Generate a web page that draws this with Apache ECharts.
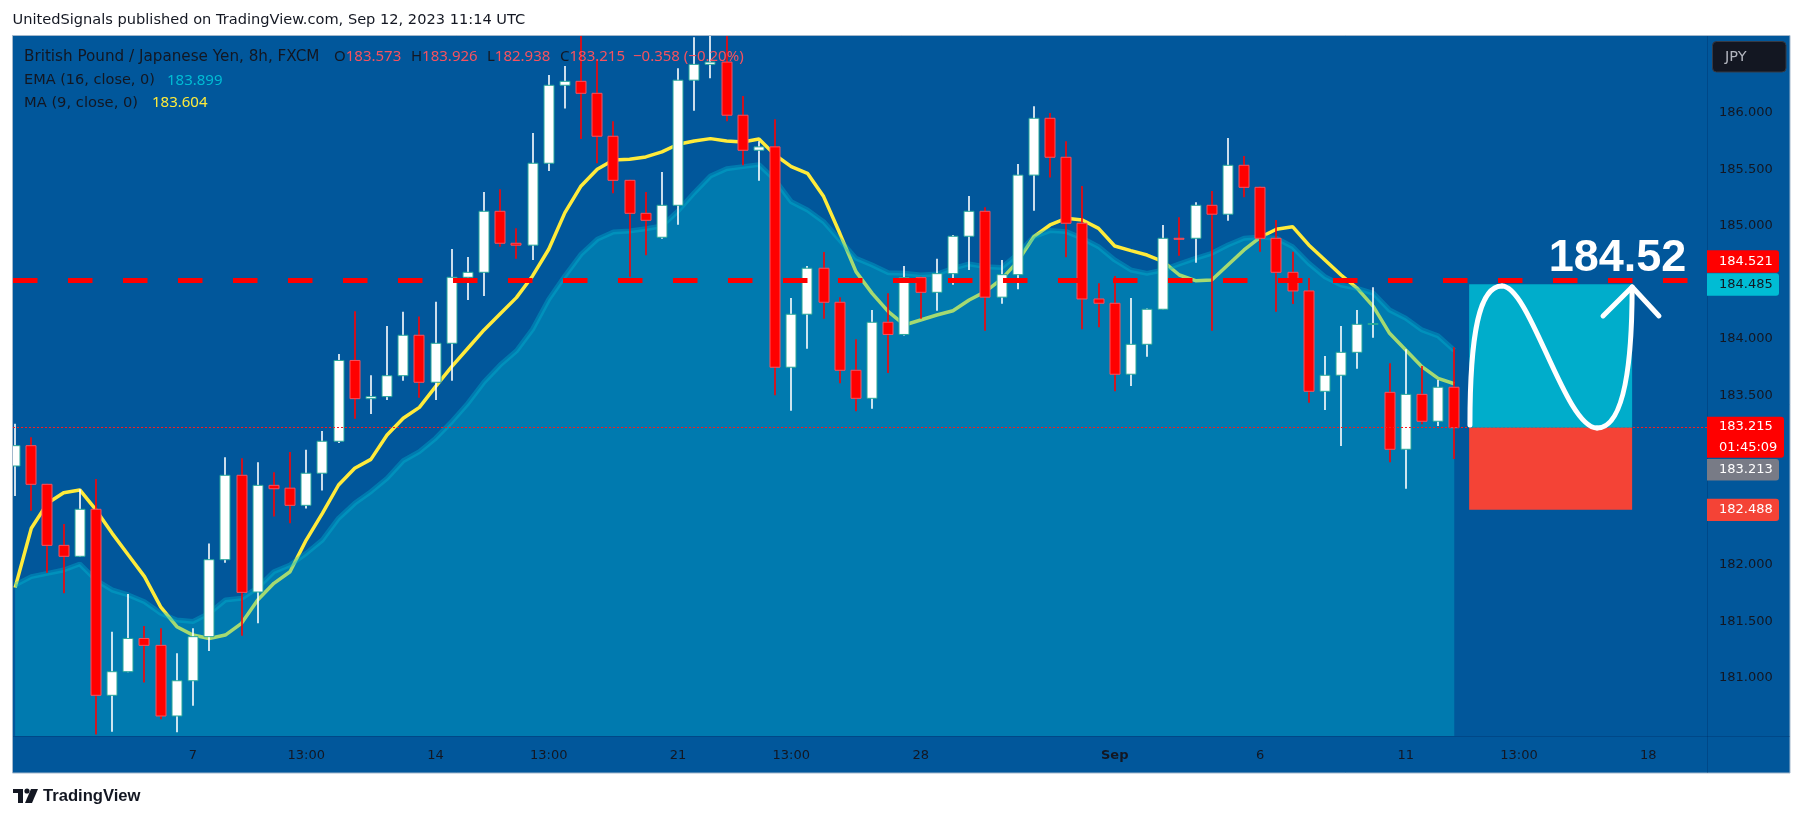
<!DOCTYPE html>
<html><head><meta charset="utf-8">
<script src="https://cdn.jsdelivr.net/npm/echarts@6/dist/echarts.min.js"></script>
<style>html,body{margin:0;padding:0;background:#fff;}#c{width:1803px;height:821px;}</style>
</head><body><div id="c"></div>
<script>
// ---------------- DATA ----------------
const opens = [182.876,183.056,182.714,182.174,182.077,182.493,180.847,181.056,181.35,181.289,
180.664,180.976,181.366,182.047,182.794,181.761,182.705,182.68,182.528,182.812,
183.095,183.81,183.472,183.49,183.675,184.033,183.617,183.962,184.546,184.59,
185.13,184.847,184.83,185.555,186.245,186.28,186.174,185.794,185.404,185.112,
184.9,185.183,186.29,186.43,186.45,185.98,185.67,185.70,183.75,184.219,
184.626,184.325,183.723,183.475,184.148,184.04,184.543,184.413,184.578,184.909,
185.13,184.37,184.569,185.45,185.953,185.608,185.024,184.354,184.316,183.688,
183.953,184.263,184.891,184.891,185.183,185.104,185.537,185.342,184.891,184.59,
184.425,183.537,183.679,183.882,184.133,183.528,183.024,183.51,183.272,183.573];
const closes = [183.056,182.714,182.174,182.077,182.493,180.847,181.056,181.35,181.289,180.664,
180.976,181.366,182.047,182.794,181.758,182.705,182.675,182.528,182.812,183.095,
183.81,183.472,183.49,183.675,184.033,183.617,183.962,184.546,184.59,185.13,
184.847,184.83,185.555,186.245,186.28,186.174,185.794,185.404,185.112,185.05,
185.183,186.29,186.43,186.45,185.98,185.67,185.70,183.75,184.219,184.626,
184.325,183.723,183.475,184.148,184.04,184.543,184.413,184.578,184.909,185.13,
184.37,184.569,185.45,185.953,185.608,185.024,184.354,184.316,183.688,183.953,
184.263,184.891,184.889,185.183,185.104,185.537,185.342,184.891,184.59,184.425,
183.537,183.679,183.882,184.13,184.137,183.024,183.51,183.272,183.573,183.215];
const lows = [182.61,182.48,181.932,181.75,182.07,180.50,180.525,181.05,180.96,180.635,
180.52,180.755,181.24,182.02,181.374,181.484,182.43,182.37,182.5,182.66,
183.08,183.295,183.336,183.46,183.63,183.48,183.46,183.63,184.345,184.38,
184.817,184.71,184.70,185.487,186.04,185.77,185.555,185.29,184.55,184.74,
184.888,185.01,186.02,186.307,185.927,185.537,185.40,183.502,183.365,183.914,
184.18,183.608,183.36,183.383,183.70,184.03,184.18,184.25,184.48,184.61,
184.073,184.312,184.44,185.135,185.43,184.723,184.086,184.104,183.537,183.584,
183.843,184.26,184.737,184.675,184.073,185.047,185.254,184.773,184.242,184.31,
183.436,183.372,183.053,183.737,184.01,182.909,182.675,183.245,183.23,182.938];
const highs = [183.25,183.13,182.72,182.363,182.67,182.76,181.41,181.743,181.46,181.44,
181.22,181.44,182.19,182.953,182.945,182.91,182.82,183.0,183.02,183.186,
183.867,184.245,183.68,184.115,184.24,184.2,184.33,184.796,184.726,185.30,
185.325,184.98,185.823,186.336,186.416,186.7,186.475,185.927,185.41,185.30,
185.478,186.396,186.67,186.7,186.7,186.15,185.75,185.944,184.363,184.646,
184.77,184.37,183.997,184.257,184.404,184.646,184.55,184.71,184.92,185.265,
185.165,184.70,185.549,186.06,186.0,185.75,185.354,184.493,184.557,184.363,
184.27,185.009,185.077,185.21,185.31,185.779,185.62,185.35,185.053,184.773,
184.54,183.85,184.115,184.257,184.457,183.785,183.91,183.761,183.637,183.926];
const ema16 = [181.823,181.897,181.926,181.956,182.009,181.867,181.779,181.735,181.675,181.573,
181.513,181.5,181.573,181.69,181.705,181.80,181.94,182.0,182.103,182.221,
182.413,182.546,182.649,182.767,182.923,183.003,183.121,183.268,183.431,183.62,
183.77,183.894,184.086,184.351,184.558,184.75,184.882,184.947,184.956,184.976,
185.0,185.133,185.295,185.442,185.507,185.525,185.543,185.407,185.215,185.142,
185.038,184.876,184.714,184.655,184.587,184.581,184.566,184.575,184.625,184.664,
184.64,184.632,184.75,184.906,184.959,184.95,184.891,184.817,184.699,184.611,
184.581,184.611,184.664,184.714,184.758,184.832,184.891,184.903,184.891,184.817,
184.67,184.551,184.478,184.448,184.404,184.257,184.183,184.08,184.027,183.899];
const ma9 = [181.80,182.325,182.546,182.64,182.664,182.487,182.28,182.088,181.897,181.63,
181.454,181.38,181.35,181.38,181.484,181.69,181.838,181.94,182.221,182.457,
182.708,182.856,182.935,183.15,183.298,183.395,183.578,183.755,183.918,184.08,
184.223,184.366,184.558,184.794,185.118,185.354,185.502,185.584,185.59,185.611,
185.655,185.723,185.752,185.773,185.752,185.743,185.77,185.628,185.525,185.466,
185.26,184.935,184.596,184.404,184.242,184.124,184.168,184.212,184.25,184.345,
184.419,184.53,184.685,184.906,185.009,185.068,185.053,184.979,184.823,184.782,
184.743,184.684,184.566,184.516,184.522,184.655,184.788,184.9,184.971,184.994,
184.832,184.699,184.566,184.448,184.286,184.05,183.903,183.755,183.652,183.604];
const xTickIndex  = [11, 18, 26, 33, 41, 48, 56, 68, 77, 86, 93, 101];
const xTickLabels = ['7','13:00','14','13:00','21','13:00','28','Sep','6','11','13:00','18'];
const yTickValues = [181, 181.5, 182, 182.5, 183, 183.5, 184, 184.5, 185, 185.5, 186];
// position tool / drawings
const alertPrice = 184.521, targetPrice = 184.485, entryPrice = 183.215, stopPrice = 182.488, bidPrice = 183.213;
const countdown = '01:45:09';
const boxStart = 89.92, boxEnd = 100.0;
const targetLabel = '184.52';
const curveStart = [89.97, 183.239];
const curveSegs = [ // [cp1, cp2, end]
  [[89.97, 184.08], [90.6, 184.469], [91.95, 184.469]],
  [[93.69, 184.469], [95.85, 183.212], [97.83, 183.212]],
  [[99.56, 183.212], [100.0, 183.814], [100.0, 184.46]]
];
const arrowPts = [[98.2, 184.204], [100.0, 184.46], [101.66, 184.204]];
const targetTextPos = [103.35, 184.71];

// ---------------- CHART ----------------
const FONT = '"Noto Sans", "Liberation Sans", sans-serif';
const DJ = '"DejaVu Sans", "Noto Sans", sans-serif';
const DARK = '#131722';
const X_MIN = -0.132, X_MAX = 104.63, Y_MIN = 180.487, Y_MAX = 186.681;
const chart = echarts.init(document.getElementById('c'));

const candleData = opens.map((o, i) => [i, o, closes[i], lows[i], highs[i]]);

function renderCandle(params, api) {
  const x = api.value(0), o = api.value(1), c = api.value(2), lo = api.value(3), hi = api.value(4);
  const up = c >= o;
  const pO = api.coord([x, o]), pC = api.coord([x, c]), pL = api.coord([x, lo]), pH = api.coord([x, hi]);
  const bw = Math.round(api.size([1, 0])[0] * 0.70);
  const cx = Math.round(pO[0]);
  const top = Math.min(pO[1], pC[1]), bot = Math.max(pO[1], pC[1]);
  const h = Math.max(bot - top, 1);
  return {
    type: 'group',
    children: [
      { type: 'line', shape: { x1: cx, y1: pH[1], x2: cx, y2: pL[1] },
        style: { stroke: up ? '#ffffff' : '#ff0000', lineWidth: 1.6 } },
      { type: 'rect', shape: { x: cx - bw / 2 + 0.5, y: top, width: bw - 1, height: h },
        style: { fill: up ? '#ffffff' : '#ff0000', stroke: up ? '#26a69a' : '#f7525f', lineWidth: 1 } }
    ]
  };
}

function renderAnnot(params, api) {
  const c = p => api.coord(p);
  const tl = c([boxStart, targetPrice]), en = c([boxEnd, entryPrice]), sb = c([boxEnd, stopPrice]);
  const children = [
    { type: 'rect', shape: { x: tl[0], y: tl[1], width: en[0] - tl[0], height: en[1] - tl[1] }, style: { fill: '#00adcb' } },
    { type: 'rect', shape: { x: tl[0], y: en[1], width: en[0] - tl[0], height: sb[1] - en[1] }, style: { fill: '#f44336' } }
  ];
  let prev = c(curveStart);
  curveSegs.forEach(seg => {
    const a = c(seg[0]), b = c(seg[1]), e = c(seg[2]);
    children.push({ type: 'bezierCurve',
      shape: { x1: prev[0], y1: prev[1], cpx1: a[0], cpy1: a[1], cpx2: b[0], cpy2: b[1], x2: e[0], y2: e[1] },
      style: { stroke: '#ffffff', lineWidth: 5, fill: null, lineCap: 'round' } });
    prev = e;
  });
  children.push({ type: 'polyline', shape: { points: arrowPts.map(c) },
    style: { stroke: '#ffffff', lineWidth: 5, fill: null, lineCap: 'round', lineJoin: 'round' } });
  const tp = c(targetTextPos);
  children.push({ type: 'text', x: tp[0], y: tp[1],
    style: { text: targetLabel, fill: '#ffffff', fontSize: 45, fontWeight: 'bold',
      fontFamily: '"Liberation Sans", Arial, sans-serif', align: 'right', verticalAlign: 'middle' } });
  return { type: 'group', children };
}

const option = {
  animation: false,
  backgroundColor: '#ffffff',
  grid: { left: 13, right: 96, top: 36, bottom: 85, containLabel: false, outerBoundsMode: 'none' },
  tooltip: { show: false },
  xAxis: {
    type: 'value', min: X_MIN, max: X_MAX,
    axisLine: { show: false }, axisTick: { show: false }, splitLine: { show: false },
    axisLabel: {
      customValues: xTickIndex, margin: 13, color: DARK, fontSize: 13, fontFamily: DJ,
      formatter: v => { const k = xTickIndex.indexOf(Math.round(v)); const t = k >= 0 ? xTickLabels[k] : '';
        return t === 'Sep' ? '{b|' + t + '}' : t; },
      rich: { b: { fontWeight: 'bold', color: DARK, fontSize: 13, fontFamily: DJ } }
    }
  },
  yAxis: {
    type: 'value', position: 'right', min: Y_MIN, max: Y_MAX, scale: true,
    axisLine: { show: false }, axisTick: { show: false }, splitLine: { show: false },
    axisLabel: { customValues: yTickValues, margin: 12, color: DARK, fontSize: 13, fontFamily: DJ,
      formatter: v => v.toFixed(3) }
  },
  series: [
    { name: 'MA (9, close, 0)', type: 'line', z: 2, showSymbol: false, silent: true,
      data: ma9.map((v, i) => [i, v]),
      lineStyle: { color: '#ffeb3b', width: 3.5 },
      markLine: { silent: true, symbol: ['none', 'none'], label: { show: false },
        lineStyle: { color: '#ff0000', width: 5, type: [24.5, 30.5] },
        data: [{ yAxis: alertPrice }] } },
    { name: 'EMA (16, close, 0)', type: 'line', z: 3, showSymbol: false, silent: true,
      data: ema16.map((v, i) => [i, v]),
      lineStyle: { color: 'rgba(0,188,212,0.35)', width: 5 },
      areaStyle: { color: 'rgba(0,188,212,0.5)', origin: 'start' } },
    { name: 'GBPJPY', type: 'custom', z: 4, clip: true, silent: true,
      renderItem: renderCandle, encode: { x: 0, y: [1, 2, 3, 4] }, data: candleData },
    { name: 'last', type: 'line', z: 5, showSymbol: false, silent: true,
      data: [[89, entryPrice]], lineStyle: { width: 0, opacity: 0 },
      markLine: { silent: true, symbol: ['none', 'none'], label: { show: false },
        lineStyle: { color: '#ff1a1a', width: 1, type: [2, 2] },
        data: [{ yAxis: entryPrice }] } },
    { name: 'long position', type: 'custom', z: 6, clip: false, silent: true,
      renderItem: renderAnnot, encode: { x: 0, y: 1 }, data: [[boxStart, entryPrice]] }
  ]
};
chart.setOption(option);

// ---------------- decorations, legend, price labels ----------------
const yPx = p => chart.convertToPixel({ yAxisIndex: 0 }, p);
const n = closes.length - 1;
const chg = closes[n] - opens[n];
const pct = chg / opens[n] * 100;
const fmtS = v => (v < 0 ? '\u2212' : '+') + Math.abs(v).toFixed(3);

function txt(x, y, text, fill, size, extra) {
  return Object.assign({ type: 'text', x, y, z: 100,
    style: Object.assign({ text, fill, fontSize: size || 14, fontFamily: FONT, verticalAlign: 'middle', align: 'left' }, extra || {}) });
}
function priceTag(yc, h, w, bg, lines, color) {
  const g = [{ type: 'rect', z: 90, shape: { x: 1707, y: yc - h / 2, width: w, height: h, r: [0, 3, 3, 0] }, style: { fill: bg } }];
  const lh = h / lines.length;
  lines.forEach((t, k) => g.push(txt(1719, yc - h / 2 + lh * (k + 0.5), t, color, 13, { fontFamily: DJ })));
  return g;
}
const RICH = { d: { fill: DARK, fontSize: 15, fontFamily: FONT }, r: { fill: '#f7525f', fontSize: 15, fontFamily: FONT } };

const els = [
  { type: 'rect', z: -100, shape: { x: 12.5, y: 35.5, width: 1777.5, height: 737.5 }, style: { fill: '#01579b', stroke: '#a3b8cc', lineWidth: 1 } },
  { type: 'line', z: -50, shape: { x1: 1707.5, y1: 36, x2: 1707.5, y2: 773 }, style: { stroke: 'rgba(0,25,70,0.22)', lineWidth: 1 } },
  { type: 'line', z: -50, shape: { x1: 13, y1: 736.5, x2: 1790, y2: 736.5 }, style: { stroke: 'rgba(0,25,70,0.22)', lineWidth: 1 } },
  txt(12.5, 20.5, 'UnitedSignals published on TradingView.com, Sep 12, 2023 11:14 UTC', DARK, 14.6, { fontFamily: DJ }),
  txt(24, 57, 'British Pound / Japanese Yen, 8h, FXCM', DARK, 15.2, { fontFamily: DJ }),
  txt(334, 57, '{d|O}{r|' + opens[n].toFixed(3) + '}', DARK, 15, { rich: RICH }),
  txt(411, 57, '{d|H}{r|' + highs[n].toFixed(3) + '}', DARK, 15, { rich: RICH }),
  txt(487, 57, '{d|L}{r|' + lows[n].toFixed(3) + '}', DARK, 15, { rich: RICH }),
  txt(560, 57, '{d|C}{r|' + closes[n].toFixed(3) + '}', DARK, 15, { rich: RICH }),
  txt(633, 57, fmtS(chg) + ' (' + (pct < 0 ? '\u2212' : '+') + Math.abs(pct).toFixed(2) + '%)', '#f7525f', 15),
  txt(24, 80.5, 'EMA (16, close, 0)', DARK, 14.5, { fontFamily: DJ }),
  txt(167, 80.5, ema16[n].toFixed(3), '#00bcd4', 15),
  txt(24, 103, 'MA (9, close, 0)', DARK, 14.7, { fontFamily: DJ }),
  txt(152, 103, ma9[n].toFixed(3), '#ffeb3b', 15),
  { type: 'rect', z: 90, shape: { x: 1712.5, y: 41.5, width: 73.5, height: 30.5, r: 4 }, style: { fill: '#131722', stroke: '#363a45', lineWidth: 1 } },
  txt(1725, 57, 'JPY', '#b2b5be', 14.5, { fontFamily: DJ }),
  // footer
  { type: 'rect', z: 100, shape: { x: 13, y: 789, width: 10, height: 4 }, style: { fill: '#131722' } },
  { type: 'rect', z: 100, shape: { x: 18, y: 789, width: 5, height: 14 }, style: { fill: '#131722' } },
  { type: 'circle', z: 100, shape: { cx: 27, cy: 791, r: 2.6 }, style: { fill: '#131722' } },
  { type: 'polygon', z: 100, shape: { points: [[31, 789], [38, 789], [32, 803], [25, 803]] }, style: { fill: '#131722' } },
  txt(43, 796, 'TradingView', '#131722', 16.6, { fontFamily: '"Liberation Sans", Arial, sans-serif', fontWeight: 'bold' })
];
els.push(...priceTag(yPx(alertPrice) - 18.6, 22.7, 72, '#ff0000', [alertPrice.toFixed(3)], '#ffffff'));
els.push(...priceTag(yPx(targetPrice) + 0.3, 22.4, 72, '#00bcd4', [targetPrice.toFixed(3)], DARK));
els.push(...priceTag(yPx(entryPrice) + 9.5, 41, 77, '#ff0000', [entryPrice.toFixed(3), countdown], '#ffffff'));
els.push(...priceTag(yPx(bidPrice) + 41.8, 21.3, 72, '#787b86', [bidPrice.toFixed(3)], '#ffffff'));
els.push(...priceTag(yPx(stopPrice), 22.3, 72, '#f44336', [stopPrice.toFixed(3)], '#ffffff'));
chart.setOption({ graphic: { elements: els } });
</script></body></html>
